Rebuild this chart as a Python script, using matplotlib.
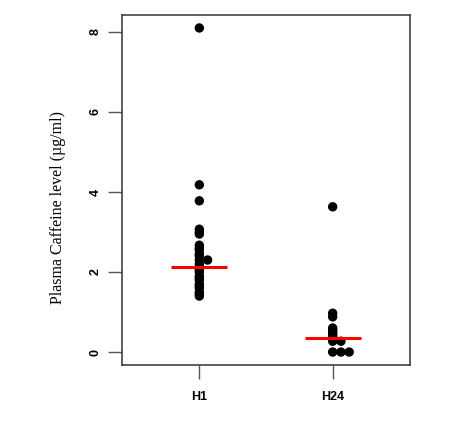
import matplotlib
matplotlib.use("Agg")
import matplotlib.pyplot as plt
import numpy as np

groups = ["H1", "H24"]
h1_values = [8.1, 4.18, 3.78, 3.07, 3.0, 2.95, 2.67, 2.6, 2.55, 2.45, 2.4, 2.3, 2.3,
             2.2, 2.12, 2.05, 2.0, 1.9, 1.85, 1.8, 1.7, 1.65, 1.6, 1.5, 1.45, 1.4]
h24_values = [3.63, 0.97, 0.88, 0.6, 0.55, 0.5, 0.45, 0.4, 0.35, 0.27, 0.27, 0.0, 0.0, 0.0]
medians = [2.13, 0.35]
y_ticks = [0, 2, 4, 6, 8]

fig = plt.figure(figsize=(4.77, 4.22), dpi=100)
ax = fig.add_axes([122/477, 1-365/422, 288/477, 350/422])

stack_offset = 0.062
for i, vals in enumerate([h1_values, h24_values], start=1):
    counts = {}
    xs = []
    for v in vals:
        k = counts.get(v, 0)
        counts[v] = k + 1
        xs.append(i + k * stack_offset)
    ax.scatter(xs, vals, s=46, color="black", edgecolors="none", zorder=2)
    ax.plot([i - 0.21, i + 0.21], [medians[i-1]] * 2, color="red", lw=2.2, zorder=3,
            solid_capstyle="butt")

ax.set_xlim(0.42, 2.58)
ax.set_ylim(-0.324, 8.424)
ax.set_xticks([1, 2])
ax.set_xticklabels(groups, fontweight="bold", fontsize=9, family="Liberation Sans")
ax.set_yticks(y_ticks)
ax.set_yticklabels([str(t) for t in y_ticks], fontweight="bold", fontsize=9,
                   family="Liberation Sans", rotation=90, va="center")
ax.tick_params(axis="both", length=10, width=1, color="#555555")
ax.tick_params(axis="y", pad=4.5)
ax.tick_params(axis="x", pad=9)
for sp in ax.spines.values():
    sp.set_color("#333333")
    sp.set_linewidth(1.1)

fig.text(58/477, 1-208/422, "Plasma Caffeine level (\u00b5g/ml)", rotation=90,
         ha="center", va="center", fontsize=11.5, family="Liberation Serif")

fig.savefig("out.png", dpi=100)
